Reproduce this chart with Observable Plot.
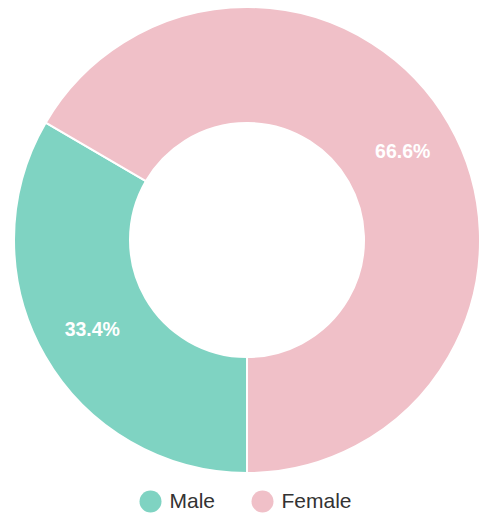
<!DOCTYPE html>
<html>
<head>
<meta charset="utf-8">
<script src="https://cdn.jsdelivr.net/npm/d3@7"></script>
<script src="https://cdn.jsdelivr.net/npm/@observablehq/plot@0.6"></script>
<style>
  html, body { margin: 0; padding: 0; background: #fff; }
  #chart { width: 482px; height: 517px; }
  svg { font-family: "Liberation Sans", Arial, Helvetica, sans-serif; }
</style>
</head>
<body>
<div id="chart"></div>
<script>
const categories = ["Male", "Female"];
const values = [33.4, 66.6];
const colors = ["#7fd3c2", "#f0c0c8"];
const labels = ["33.4%", "66.6%"];

const W = 482, H = 517;
const cx = 247, cy = 240, outerR = 233, innerR = 117, labelR = 179;

const data = categories.map((c, i) => ({category: c, value: values[i], label: labels[i], color: colors[i]}));
const pie = d3.pie().value(d => d.value).sort(null).startAngle(Math.PI).endAngle(3 * Math.PI);
const arcs = pie(data);
const arcGen = d3.arc().innerRadius(innerR).outerRadius(outerR);
const labelArc = d3.arc().innerRadius(labelR).outerRadius(labelR);

const labelData = arcs.map(a => {
  const [x, y] = labelArc.centroid(a);
  return {x: cx + x, y: cy + y, label: a.data.label};
});

const legendData = categories.map((c, i) => ({category: c, color: colors[i], x: i === 0 ? 150 : 262, y: 501}));

const donutMark = (index, scales, values, dimensions, context) => {
  const g = d3.create("svg:g").attr("transform", `translate(${scales.x(cx)},${scales.y(cy)})`);
  g.selectAll("path").data(arcs).join("path")
    .attr("d", arcGen)
    .attr("fill", d => d.data.color)
    .attr("stroke", "#fff")
    .attr("stroke-width", 2)
    .attr("stroke-linejoin", "round");
  return g.node();
};

const plot = Plot.plot({
  width: W,
  height: H,
  margin: 0,
  x: {type: "identity", axis: null},
  y: {type: "identity", axis: null},
  marks: [
    donutMark,
    Plot.text(labelData, {x: "x", y: "y", text: "label", fill: "#fff", fontSize: 19.5, fontWeight: "bold"}),
    Plot.dot(legendData, {x: "x", y: "y", r: 11, fill: "color", stroke: null}),
    Plot.text(legendData, {x: d => d.x + 19, y: "y", text: "category", textAnchor: "start", fontSize: 21, fill: "#333", dy: 0})
  ]
});
document.getElementById("chart").appendChild(plot);
</script>
</body>
</html>
